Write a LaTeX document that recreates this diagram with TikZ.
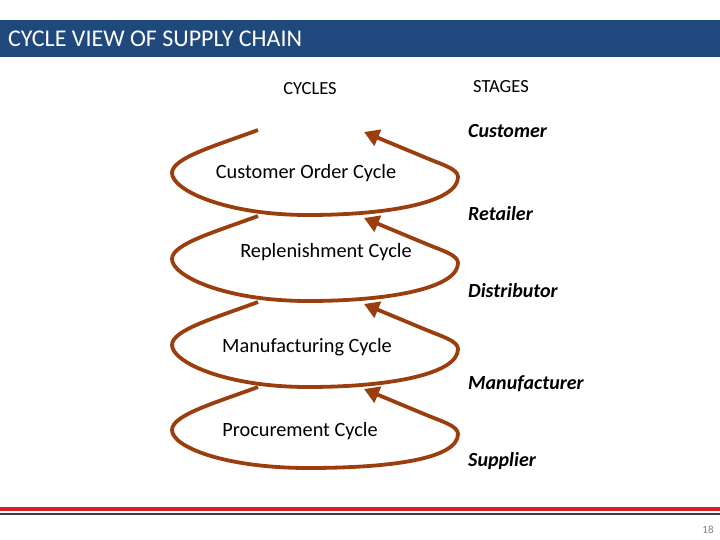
\documentclass[tikz,border=0pt]{standalone}
\usepackage{fontspec}
\setmainfont{Carlito}
\usetikzlibrary{arrows.meta}
\definecolor{titleblue}{RGB}{31,73,125}
\definecolor{loopbrown}{RGB}{155,62,14}
\definecolor{footred}{RGB}{214,32,38}
\definecolor{footdark}{RGB}{55,60,75}
% #1 name prefix, #2 top y (pixels from top), #3 height of the loop
\newcommand\cycleloop[3]{%
  \coordinate (#1s) at (258,#2);
  \coordinate (#1l) at (172,#2+43);
  \coordinate (#1b) at (308,#2+#3);
  \coordinate (#1r) at (458,#2+47);
  \coordinate (#1k) at (425,#2+27.4);
  \coordinate (#1t) at (364,#2+2);
  \draw[loopline] (#1s) .. controls (215,#2+16) and (172,#2+28) .. (#1l)
     .. controls (172,#2+60) and (225,#2+#3) .. (#1b)
     .. controls (390,#2+#3) and (458,#2+72) .. (#1r)
     .. controls (458,#2+39) and (443,#2+34.9) .. (#1k) -- (#1t);
}
\begin{document}
\begin{tikzpicture}[x=1pt,y=-1pt,
  loopline/.style={draw=loopbrown, line width=3.8pt, line join=round, -{Triangle[length=15pt,width=17pt]}},
  cyclelabel/.style={font=\fontsize{20.3}{22}\selectfont, anchor=center, inner sep=0pt},
  stagelabel/.style={font=\fontsize{20}{22}\selectfont\bfseries\itshape, anchor=west, inner sep=0pt},
  headlabel/.style={font=\fontsize{18.5}{20}\selectfont, anchor=center, inner sep=0pt}]
\useasboundingbox (0,0) rectangle (720,540);
\fill[titleblue] (0,20) rectangle (720,57);
\node[anchor=west, text=white, font=\fontsize{24}{28}\selectfont, inner sep=0pt] (title) at (8,39) {CYCLE VIEW OF SUPPLY CHAIN};
\node[headlabel] (cycles) at (310,89) {CYCLES};
\node[headlabel] (stages) at (501,87) {STAGES};
\cycleloop{a}{130}{85}
\cycleloop{b}{216}{85}
\cycleloop{c}{302}{85}
\cycleloop{d}{387}{81}
\node[cyclelabel] (co) at (306,173) {Customer Order Cycle};
\node[cyclelabel] (rep) at (326,252) {Replenishment Cycle};
\node[cyclelabel] (man) at (307,347) {Manufacturing Cycle};
\node[cyclelabel] (pro) at (300,431) {Procurement Cycle};
\node[stagelabel] (cust) at (468,131) {Customer};
\node[stagelabel] (ret) at (468,214) {Retailer};
\node[stagelabel] (dist) at (468,291) {Distributor};
\node[stagelabel] (manu) at (468,384) {Manufacturer};
\node[stagelabel] (sup) at (468,461) {Supplier};
\fill[footred] (0,507) rectangle (720,511);
\draw[footdark, line width=1.5pt] (0,514) -- (720,514);
\node[font=\fontsize{11}{12}\selectfont, text=gray, inner sep=0pt] (pg) at (708,530) {18};
\end{tikzpicture}
\end{document}
